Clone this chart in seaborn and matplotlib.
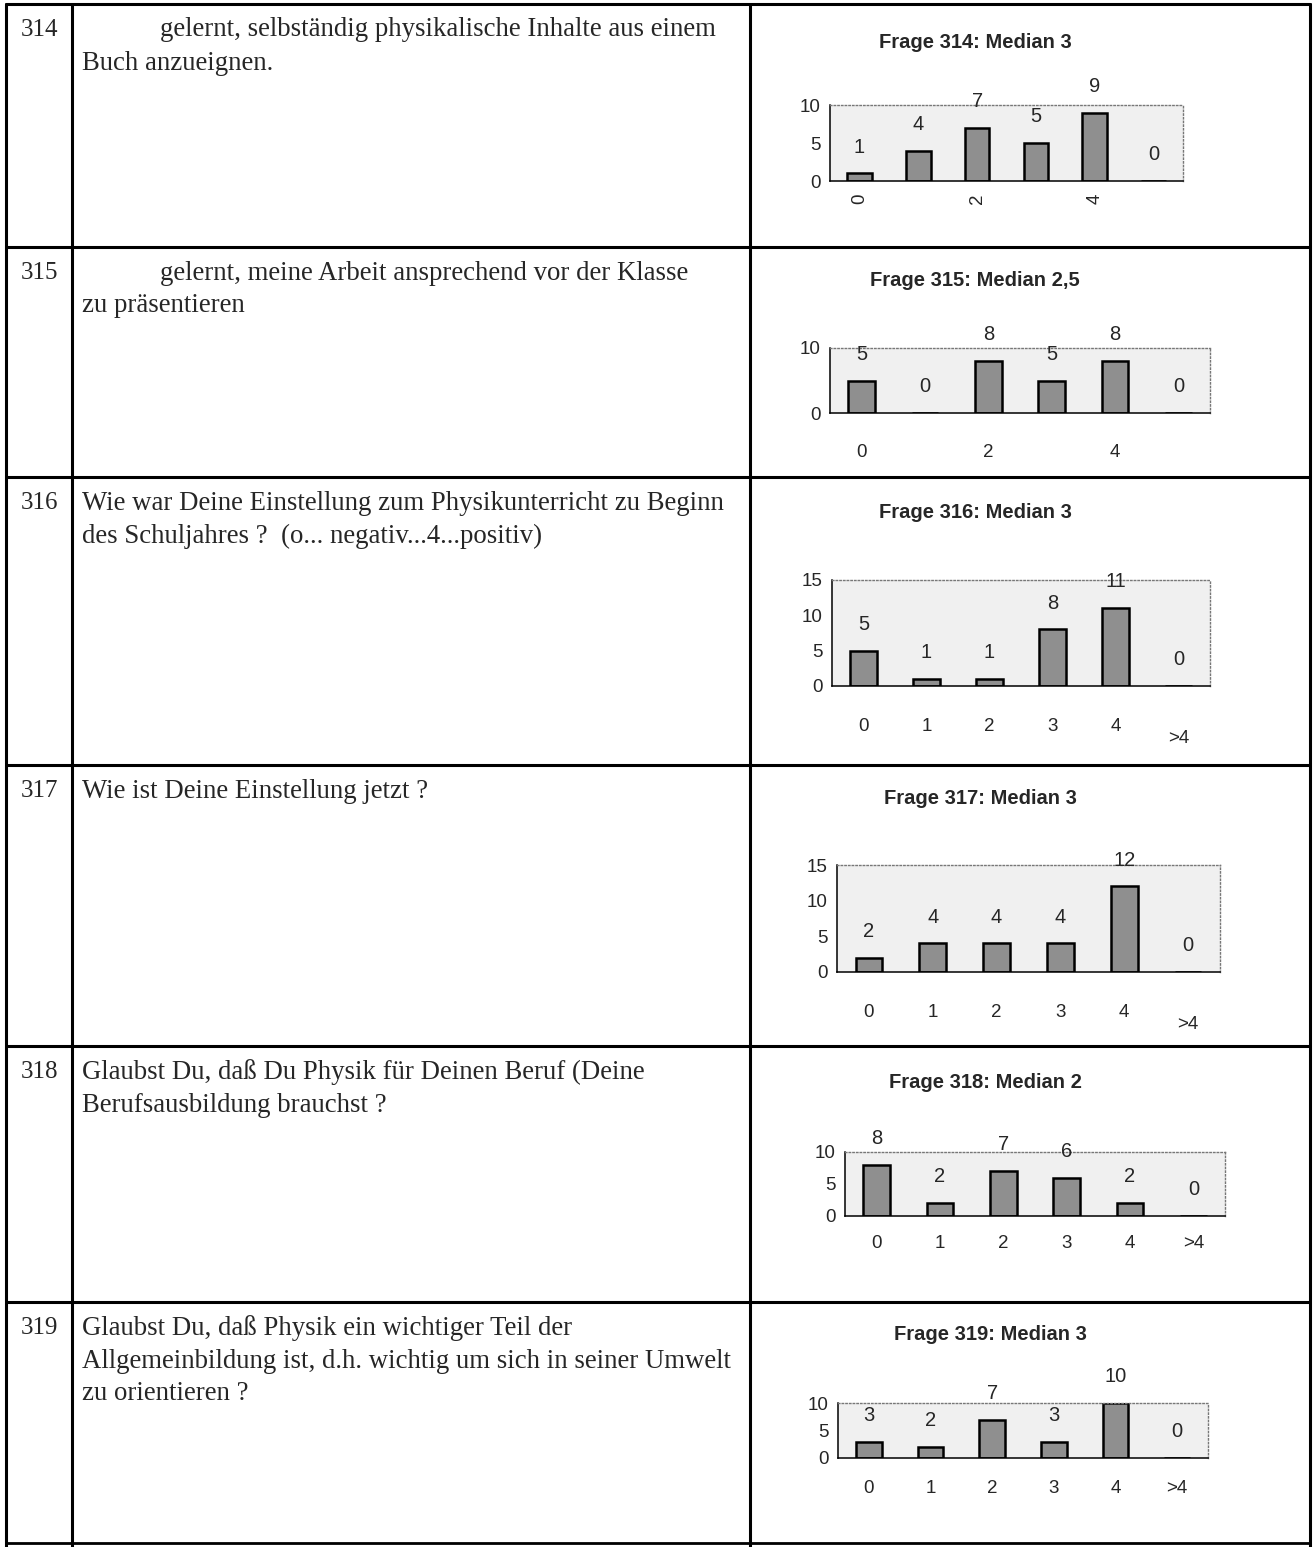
import numpy as np
import pandas as pd
import matplotlib.pyplot as plt
import seaborn as sns

sns.set_style('white')
plt.rcParams['font.family'] = ['Liberation Sans', 'DejaVu Sans']

# data
question_ids = ['314', '315', '316', '317', '318', '319']
question_lines = [
    ['gelernt, selbständig physikalische Inhalte aus einem', 'Buch anzueignen.'],
    ['gelernt, meine Arbeit ansprechend vor der Klasse', 'zu präsentieren'],
    ['Wie war Deine Einstellung zum Physikunterricht zu Beginn',
     'des Schuljahres ?  (o... negativ...4...positiv)'],
    ['Wie ist Deine Einstellung jetzt ?'],
    ['Glaubst Du, daß Du Physik für Deinen Beruf (Deine', 'Berufsausbildung brauchst ?'],
    ['Glaubst Du, daß Physik ein wichtiger Teil der',
     'Allgemeinbildung ist, d.h. wichtig um sich in seiner Umwelt', 'zu orientieren ?'],
]
medians = ['3', '2,5', '3', '3', '2', '3']
answers = ['0', '1', '2', '3', '4', '>4']
counts_314 = [1, 4, 7, 5, 9, 0]
counts_315 = [5, 0, 8, 5, 8, 0]
counts_316 = [5, 1, 1, 8, 11, 0]
counts_317 = [2, 4, 4, 4, 12, 0]
counts_318 = [8, 2, 7, 6, 2, 0]
counts_319 = [3, 2, 7, 3, 10, 0]
all_counts = [counts_314, counts_315, counts_316, counts_317, counts_318, counts_319]
y_ticks = [[0, 5, 10], [0, 10], [0, 5, 10, 15], [0, 5, 10, 15], [0, 5, 10], [0, 5, 10]]
x_ticklabels = [
    ['0', '', '2', '', '4', ''],
    ['0', '', '2', '', '4', ''],
    ['0', '1', '2', '3', '4', '\n>4'],
    ['0', '1', '2', '3', '4', '\n>4'],
    ['0', '1', '2', '3', '4', '>4'],
    ['0', '1', '2', '3', '4', '>4'],
]

W, H = 1314, 1547
fig = plt.figure(figsize=(W / 100, H / 100), dpi=100)
fig.patch.set_facecolor('white')

# table grid drawn in pixel coordinates
bg = fig.add_axes([0, 0, 1, 1])
bg.set_xlim(0, W)
bg.set_ylim(H, 0)
bg.axis('off')

row_tops = [4, 247, 477, 765, 1046, 1302]
for y in row_tops:
    bg.plot([6, 1310], [y, y], color='black', lw=2.2)
bg.plot([6, 1310], [1543, 1543], color='black', lw=2.0)
for x in [6, 72, 750, 1310]:
    bg.plot([x, x], [4, H], color='black', lw=2.2)

serif = ['Liberation Serif', 'DejaVu Serif']
text_indent = [True, True, False, False, False, False]
for i, top in enumerate(row_tops):
    bg.text(21, top + 26, question_ids[i], family=serif, fontsize=18, va='center', ha='left')
    for j, line in enumerate(question_lines[i]):
        x0 = 160 if (j == 0 and text_indent[i]) else 82
        bg.text(x0, top + 26 + j * 33, line, family=serif, fontsize=19.3, va='center', ha='left')

# chart boxes (left, top, right, bottom) in pixels
chart_boxes = [
    (830, 105, 1183, 181),
    (830, 348, 1210, 413),
    (832, 580, 1210, 686),
    (837, 865, 1220, 972),
    (845, 1152, 1225, 1216),
    (838, 1403, 1208, 1458),
]
title_pos = [(975, 42), (975, 280), (975, 512), (980, 798), (985, 1083), (990, 1334)]
label_pads = [9, 22, 23, 23, 14, 16]

for i, (l, t, r, b) in enumerate(chart_boxes):
    ax = fig.add_axes([l / W, 1 - b / H, (r - l) / W, (b - t) / H])
    df = pd.DataFrame({'answer': answers, 'count': all_counts[i]})
    sns.barplot(data=df, x='answer', y='count', ax=ax, color='#8f8f8f', saturation=1,
                width=0.42, edgecolor='black', linewidth=1.8)
    ax.set_xlim(-0.5, 5.5)
    ax.set_ylim(0, max(y_ticks[i]))
    ax.set_facecolor('#f0f0f0')
    ax.set_xlabel('')
    ax.set_ylabel('')
    for s in ['left', 'bottom']:
        ax.spines[s].set_color('black')
        ax.spines[s].set_linewidth(1.1)
    for s in ['top', 'right']:
        ax.spines[s].set_color('#777777')
        ax.spines[s].set_linestyle(':')
        ax.spines[s].set_linewidth(1.0)

    ax.set_xticks(np.arange(-0.5, 6.0, 1.0), labels=[])
    ax.set_xticks(np.arange(6), labels=x_ticklabels[i], minor=True)
    ax.tick_params(axis='x', which='major', direction='inout', length=10, width=1.0, color='black')
    ax.tick_params(axis='x', which='minor', length=0, pad=label_pads[i], labelsize=13.5)
    if i == 0:
        for lab in ax.get_xticklabels(minor=True):
            lab.set_rotation(90)
    for lab in ax.get_xticklabels(minor=True):
        lab.set_linespacing(0.6)
    ax.set_yticks(y_ticks[i])
    ax.tick_params(axis='y', direction='inout', length=9, width=1.0, color='black', labelsize=13.5, pad=2)

    for k, v in enumerate(all_counts[i]):
        ax.annotate(str(v), (k, v), xytext=(0, 19), textcoords='offset points',
                    ha='center', va='center', fontsize=14.5, annotation_clip=False)

    tx, ty = title_pos[i]
    fig.text(tx / W, 1 - ty / H, f'Frage {question_ids[i]}: Median {medians[i]}',
             ha='center', va='center', fontsize=14.5, fontweight='bold')

fig.savefig('out.png', dpi=100)
plt.close(fig)
